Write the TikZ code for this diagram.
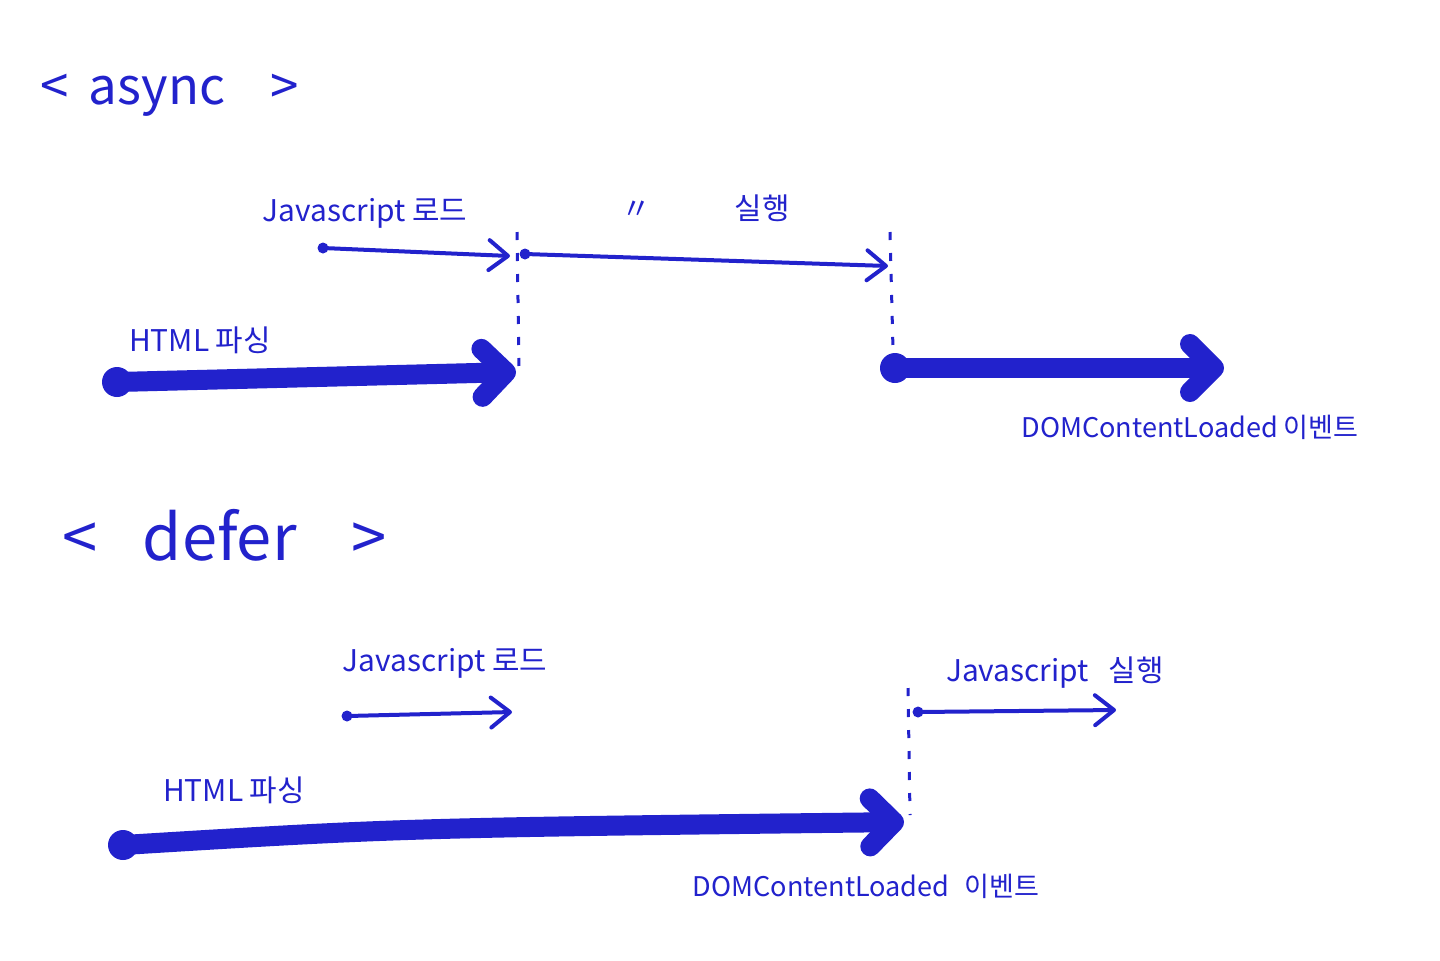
\documentclass[tikz,border=0pt]{standalone}
\usepackage{fontspec}
\setmainfont{Noto Sans CJK KR}
\usetikzlibrary{arrows.meta, positioning}
\definecolor{pen}{HTML}{2222CC}
\tikzset{
  title/.style={text=pen, font=\fontsize{14.5}{16}\selectfont, inner sep=0pt},
  bigtitle/.style={text=pen, font=\fontsize{18}{20}\selectfont, inner sep=0pt},
  lbl/.style={text=pen, font=\fontsize{8.5}{10}\selectfont, inner sep=0pt},
  evlbl/.style={text=pen, font=\fontsize{7.7}{10}\selectfont, inner sep=0pt},
  jsline/.style={draw=pen, line width=0.4mm, line cap=round,
    -{Straight Barb[length=1.9mm, width=3mm, line cap=round, line join=round]}},
  parseline/.style={draw=pen, line width=2mm, line cap=round,
    -{Straight Barb[length=2.4mm, width=4.8mm, line cap=round, line join=round]}},
  smalldot/.style={fill=pen, circle, inner sep=0pt, minimum size=1.1mm},
  bigdot/.style={fill=pen, circle, inner sep=0pt, minimum size=3mm},
  cut/.style={draw=pen, line width=0.3mm, dash pattern=on 0.8mm off 1.3mm}
}
\begin{document}
\begin{tikzpicture}[x=0.1mm, y=-0.1mm]
  \useasboundingbox (0,0) rectangle (1440,960);

  % async
  \node[title, anchor=west] (asyncTitle) at (40,95) {<\hspace{2mm}async\hspace{4.5mm}>};
  \node[lbl] (aLoadLbl) at (365,213) {Javascript 로드};
  \node[lbl] (aDitto) at (636,210) {〃};
  \node[lbl] (aExecLbl) at (762,208) {실행};
  \node[lbl] (aParseLbl) at (200,340) {HTML 파싱};
  \node[evlbl] (aEventLbl) at (1190,427) {DOMContentLoaded 이벤트};

  \node[smalldot] (aLoadS) at (323,248) {};
  \coordinate (aLoadE) at (510,256);
  \node[smalldot] (aExecS) at (525,254) {};
  \coordinate (aExecE) at (888,266);
  \node[bigdot] (aParseS) at (117,382) {};
  \coordinate (aParseE) at (516,372);
  \node[bigdot] (aRestS) at (895,368) {};
  \coordinate (aRestE) at (1224,368);

  \coordinate (aCut1T) at (517,232);
  \coordinate (aCut1B) at (519,368);
  \coordinate (aCut2T) at (890,232);
  \coordinate (aCut2B) at (893,350);

  \draw[jsline] (aLoadS.center) -- (aLoadE);
  \draw[jsline] (aExecS.center) -- (aExecE);
  \draw[parseline] (aParseS.center) -- (aParseE);
  \draw[parseline] (aRestS.center) -- (aRestE);
  \draw[cut] (aCut1T) -- (aCut1B);
  \draw[cut] (aCut2T) -- (aCut2B);

  % defer
  \node[bigtitle, anchor=west] (deferTitle) at (62,535) {<\hspace{4.5mm}defer\hspace{5.5mm}>};
  \node[lbl] (dLoadLbl) at (445,663) {Javascript 로드};
  \node[lbl] (dExecLbl) at (1055,673) {Javascript\hspace{2mm}실행};
  \node[lbl] (dParseLbl) at (234,790) {HTML 파싱};
  \node[evlbl] (dEventLbl) at (866,886) {DOMContentLoaded\hspace{1.5mm}이벤트};

  \node[smalldot] (dLoadS) at (347,716) {};
  \coordinate (dLoadE) at (512,712);
  \node[smalldot] (dExecS) at (918,712) {};
  \coordinate (dExecE) at (1116,710);
  \node[bigdot] (dParseS) at (123,845) {};
  \coordinate (dParseE) at (904,822);

  \coordinate (dCutT) at (908,688);
  \coordinate (dCutB) at (910,815);

  \draw[jsline] (dLoadS.center) -- (dLoadE);
  \draw[jsline] (dExecS.center) -- (dExecE);
  \draw[parseline] (dParseS.center) .. controls (400,828) .. (dParseE);
  \draw[cut] (dCutT) -- (dCutB);
\end{tikzpicture}
\end{document}
